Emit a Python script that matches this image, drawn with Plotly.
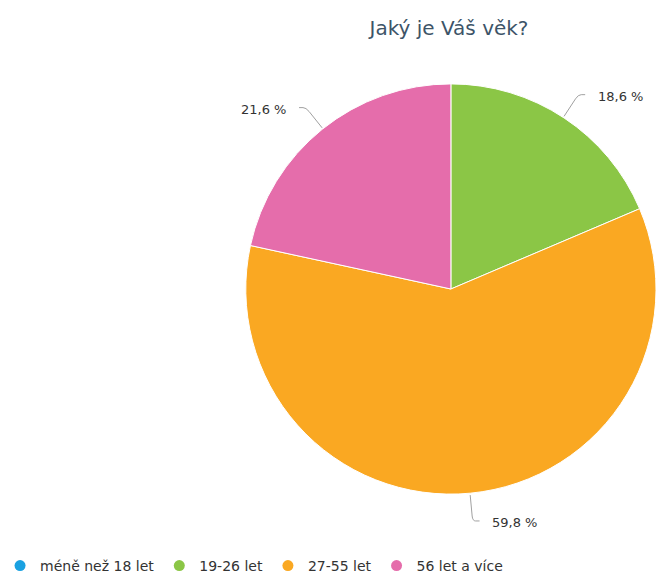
import math
import plotly.graph_objects as go

categories = ["méně než 18 let", "19-26 let", "27-55 let", "56 let a více"]
values = [0.0, 18.6, 59.8, 21.6]
colors = ["#1AA1E1", "#8BC646", "#FAA822", "#E56DAB"]
label_texts = ["0 %", "18,6 %", "59,8 %", "21,6 %"]

W, H = 656, 582
CX, CY, R = 449, 289, 207

def px(x):
    return x / W

def py(y):
    return (H - y) / H

fig = go.Figure()
fig.add_trace(go.Pie(
    labels=categories, values=values, sort=False, direction="clockwise",
    rotation=0, marker=dict(colors=colors, line=dict(color="white", width=1)),
    textinfo="none", hoverinfo="label+percent", showlegend=False,
    domain=dict(x=[px(CX - R), px(CX + R)], y=[py(CY + R), py(CY - R)]),
))

for cat, col in zip(categories, colors):
    fig.add_trace(go.Scatter(
        x=[None], y=[None], mode="markers", name=cat,
        marker=dict(symbol="circle", size=11, color=col),
    ))

shapes = []
annotations = []
total = sum(values)
cum = 0.0
for v, txt in zip(values, label_texts):
    if v <= 0:
        cum += v
        continue
    mid = (cum + v / 2) / total * 2 * math.pi
    cum += v
    s, c = math.sin(mid), math.cos(mid)
    sx, sy = CX + R * s, CY - R * c
    ex, ey = CX + (R + 26) * s, CY - (R + 26) * c
    bx, by = CX + (R + 21) * s, CY - (R + 21) * c
    side = 1 if s >= 0 else -1
    hx = ex + side * 7
    path = (f"M {px(sx)},{py(sy)} L {px(bx)},{py(by)} "
            f"Q {px(ex)},{py(ey)} {px(ex + side * 3)},{py(ey)} L {px(hx)},{py(ey)}")
    shapes.append(dict(type="path", xref="paper", yref="paper", path=path,
                       line=dict(color="#A0A0A0", width=1)))
    annotations.append(dict(
        x=px(hx + side * 11), y=py(ey + 2), xref="paper", yref="paper",
        text=txt, showarrow=False, xanchor="left" if side > 0 else "right",
        yanchor="middle", font=dict(family="DejaVu Sans", size=13, color="#333333"),
    ))

fig.update_layout(
    width=W, height=H,
    margin=dict(l=0, r=0, t=0, b=0),
    paper_bgcolor="white", plot_bgcolor="white",
    title=dict(text="Jaký je Váš věk?", x=px(CX), xanchor="center",
               y=py(28), yanchor="middle",
               font=dict(family="DejaVu Sans", size=20, color="#3D5468")),
    xaxis=dict(visible=False), yaxis=dict(visible=False),
    shapes=shapes, annotations=annotations,
    legend=dict(orientation="h", x=px(-6), xanchor="left", y=-0.0001, yanchor="bottom",
                font=dict(family="DejaVu Sans", size=14, color="#333333"),
                itemwidth=30, bgcolor="rgba(0,0,0,0)"),
)

fig.write_html("out.html", config={"displayModeBar": False},
               post_script="document.body.style.margin='0';document.body.style.overflow='hidden';")
